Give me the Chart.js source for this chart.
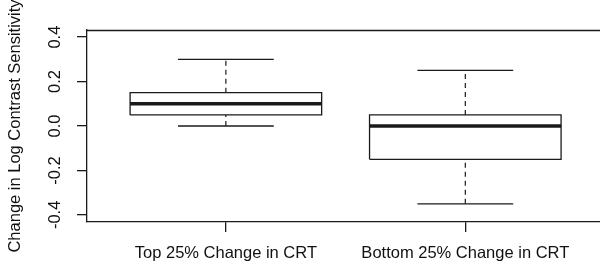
<!DOCTYPE html>
<html>
<head>
<meta charset="utf-8">
<script src="https://cdn.jsdelivr.net/npm/chart.js@4"></script>
<style>
html,body{margin:0;padding:0;background:#fff;overflow:hidden;}
#wrap{width:600px;height:263px;}
</style>
</head>
<body>
<div id="wrap"><canvas id="c" width="600" height="263"></canvas></div>
<script>
// ---- data ----
const categories = ["Top 25% Change in CRT", "Bottom 25% Change in CRT"];
const whiskerLow = [0.00, -0.35];
const quartile1  = [0.05, -0.15];
const medians    = [0.10,  0.00];
const quartile3  = [0.15,  0.05];
const whiskerHigh= [0.30,  0.25];
const yTickValues = [-0.4, -0.2, 0.0, 0.2, 0.4];
const yTickLabels = ["-0.4", "-0.2", "0.0", "0.2", "0.4"];
const yTitle = "Change in Log Contrast Sensitivity";

// ---- styling ----
const LINE = "#1a1a1a";
const FONT = "'Liberation Sans', Arial, sans-serif";
const BOX_HALF = 0.4, CAP_HALF = 0.2;

const datasets = [];
const base = {type:'line', showLine:true, pointRadius:0, fill:false, borderColor:LINE, tension:0};
categories.forEach((c, i) => {
  const x = i + 1;
  // whiskers (dashed)
  datasets.push({...base, borderWidth:1.2, borderDash:[5,4],
    data:[{x:x, y:quartile3[i]}, {x:x, y:whiskerHigh[i]}]});
  datasets.push({...base, borderWidth:1.2, borderDash:[5,4],
    data:[{x:x, y:whiskerLow[i]}, {x:x, y:quartile1[i]}]});
  // caps
  datasets.push({...base, borderWidth:1.3,
    data:[{x:x-CAP_HALF, y:whiskerHigh[i]}, {x:x+CAP_HALF, y:whiskerHigh[i]}]});
  datasets.push({...base, borderWidth:1.3,
    data:[{x:x-CAP_HALF, y:whiskerLow[i]}, {x:x+CAP_HALF, y:whiskerLow[i]}]});
  // box
  datasets.push({...base, borderWidth:1.3, backgroundColor:'#fff', fill:true,
    data:[{x:x-BOX_HALF, y:quartile1[i]}, {x:x+BOX_HALF, y:quartile1[i]},
          {x:x+BOX_HALF, y:quartile3[i]}, {x:x-BOX_HALF, y:quartile3[i]},
          {x:x-BOX_HALF, y:quartile1[i]}]});
  // median
  datasets.push({...base, borderWidth:3.5, borderCapStyle:'butt',
    data:[{x:x-BOX_HALF, y:medians[i]}, {x:x+BOX_HALF, y:medians[i]}]});
});

const framePlugin = {
  id:'frame',
  afterDraw(chart){
    const ctx = chart.ctx, a = chart.chartArea, ys = chart.scales.y;
    ctx.save();
    ctx.strokeStyle = LINE; ctx.lineWidth = 1.3;
    ctx.beginPath(); ctx.moveTo(a.left, a.top + 0.5); ctx.lineTo(a.right, a.top + 0.5); ctx.stroke();
    ctx.fillStyle = "#111";
    ctx.font = "16.5px " + FONT;
    ctx.textAlign = 'center'; ctx.textBaseline = 'middle';
    yTickValues.forEach((v, k) => {
      const py = ys.getPixelForValue(v);
      ctx.save(); ctx.translate(55, py); ctx.rotate(-Math.PI/2);
      ctx.fillText(yTickLabels[k], 0, 0);
      ctx.restore();
    });
    ctx.restore();
  }
};

new Chart(document.getElementById('c'), {
  type:'scatter',
  data:{datasets},
  options:{
    responsive:false, animation:false, devicePixelRatio:1,
    layout:{padding:{top:30, left:0, right:0, bottom:0}},
    plugins:{legend:{display:false}, tooltip:{enabled:false}, title:{display:false}},
    scales:{
      x:{
        type:'linear', min:0.42, max:2.5625,
        afterBuildTicks(s){ s.ticks = categories.map((c,i)=>({value:i+1})); },
        afterFit(s){ s.height = 41; },
        ticks:{ callback:(v)=> categories[Math.round(v)-1] || '', color:'#111',
                font:{family:FONT, size:16.5}, padding:12, maxRotation:0, autoSkip:false },
        grid:{ drawOnChartArea:false, drawTicks:true, tickLength:10, color:LINE, lineWidth:1.3 },
        border:{ display:true, color:LINE, width:1.3 }
      },
      y:{
        type:'linear', min:-0.432, max:0.432,
        afterBuildTicks(s){ s.ticks = yTickValues.map(v=>({value:v})); },
        afterFit(s){ s.width = 87; },
        ticks:{ display:false },
        grid:{ drawOnChartArea:false, drawTicks:true, tickLength:10, color:LINE, lineWidth:1.3 },
        border:{ display:true, color:LINE, width:1.3 },
        title:{ display:true, text:yTitle, color:'#111', font:{family:FONT, size:16.5}, padding:{top:6, bottom:0} }
      }
    }
  },
  plugins:[framePlugin]
});
</script>
</body>
</html>
